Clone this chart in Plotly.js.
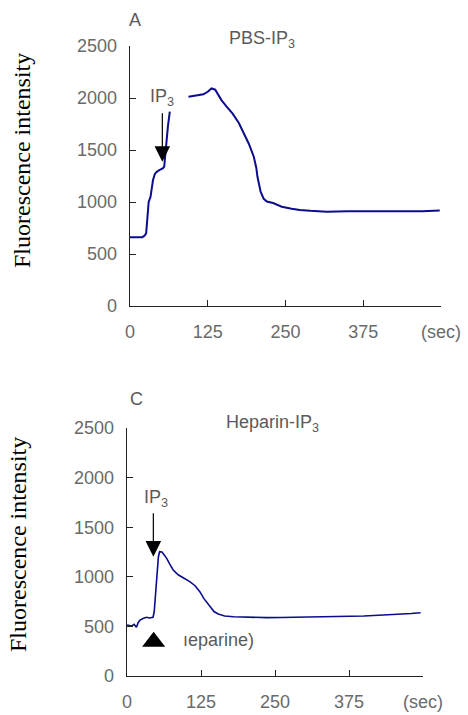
<!DOCTYPE html>
<html>
<head>
<meta charset="utf-8">
<script src="https://cdn.plot.ly/plotly-3.0.1.min.js"></script>
<style>html,body{margin:0;padding:0;background:#fff;}#chart{width:468px;height:715px;}</style>
</head>
<body>
<div id="chart"></div>
<script>
// Panel A: PBS-IP3
const pbsTime = [0, 10, 20, 24, 26, 28, 30, 33, 35, 37, 40, 43, 48, 53, 55, 57, 59, 61, 64, 80, 94, 105, 118, 125, 131, 137, 147, 155, 165, 175, 183, 191, 199, 203, 205, 210, 215, 220, 230, 244, 260, 273, 290, 316, 350, 380, 410, 440, 470, 482, 490, 498];
const pbsIntensity = [660, 660, 662, 680, 700, 850, 1000, 1050, 1150, 1211, 1270, 1290, 1310, 1325, 1340, 1480, 1620, 1730, 1870, null, 2013, 2020, 2035, 2060, 2092, 2080, 1980, 1920, 1850, 1760, 1660, 1560, 1435, 1330, 1240, 1100, 1030, 1005, 990, 955, 935, 923, 915, 907, 910, 908, 912, 910, 912, 916, 920, 918];

// Panel C: Heparin-IP3
const hepTime = [0, 4, 8, 12, 16, 19, 22, 27, 33, 38, 44, 46, 48, 50, 53, 55, 59, 63, 67, 72, 78, 83, 87, 95, 106, 115, 123, 130, 140, 147, 154, 165, 180, 200, 236, 260, 292, 330, 371, 400, 433, 450, 467, 480, 490, 496];
const hepIntensity = [514, 510, 504, 520, 491, 540, 564, 580, 592, 585, 592, 650, 800, 1035, 1200, 1253, 1250, 1220, 1186, 1130, 1069, 1040, 1018, 990, 951, 910, 850, 780, 699, 650, 625, 605, 598, 592, 588, 590, 592, 594, 598, 605, 615, 618, 625, 630, 635, 638];

// heparin addition marker
const heparinTime = [45];
const heparinLevel = [345];

// axis ticks
const xTickVals = [0, 125, 250, 375, 500];
const xTickText = ['0', '125', '250', '375', '(sec)'];
const yTickVals = [0, 500, 1000, 1500, 2000, 2500];

// IP3 arrows [x, tip y, tail y]
const ip3ArrowA = [52, 1387, 1868];
const ip3ArrowC = [44.5, 1203, 1656];

const lineColor = '#0c0c8c';
const grayText = '#5a5a5a';
const tickFont = {family: 'Liberation Sans, Arial, sans-serif', size: 18, color: '#6a6a6a'};
const W = 468, H = 715;

function xAx(l, r) {
  return {
    domain: [l / W, r / W], range: [0, 500], tickvals: xTickVals, ticktext: xTickText,
    ticks: 'inside', ticklen: 6, tickcolor: '#222', showline: true, linecolor: '#222', linewidth: 1.3,
    showgrid: false, zeroline: false, tickfont: tickFont, ticklabelstandoff: 9, fixedrange: true
  };
}
function yAx(bottom, top, anchor) {
  return {
    domain: [1 - bottom / H, 1 - top / H], range: [0, 2500], tickvals: yTickVals,
    ticks: 'inside', ticklen: 6, tickcolor: '#222', showline: true, linecolor: '#222', linewidth: 1.3,
    showgrid: false, zeroline: false, tickfont: tickFont, ticklabelstandoff: 8, anchor: anchor, fixedrange: true
  };
}

const traces = [
  {x: pbsTime, y: pbsIntensity, xaxis: 'x', yaxis: 'y', mode: 'lines', connectgaps: false,
   line: {color: lineColor, width: 2}, hoverinfo: 'skip'},
  {x: hepTime, y: hepIntensity, xaxis: 'x2', yaxis: 'y2', mode: 'lines',
   line: {color: lineColor, width: 1.6}, hoverinfo: 'skip'},
  {x: heparinTime, y: heparinLevel, xaxis: 'x2', yaxis: 'y2', mode: 'markers',
   marker: {symbol: 'triangle-up', size: 20, color: '#000'}, hoverinfo: 'skip'}
];

const yTitleFont = {family: 'Liberation Serif, Times New Roman, serif', size: 24, color: '#000'};
const labelFont = {family: 'Liberation Sans, Arial, sans-serif', size: 18, color: grayText};

function note(o) {
  return Object.assign({showarrow: false, xanchor: 'center', yanchor: 'middle', font: labelFont}, o);
}

const annotations = [
  note({text: 'A', xref: 'paper', yref: 'paper', x: 135 / W, y: 1 - 20 / H}),
  note({text: 'PBS-IP<sub>3</sub>', xref: 'paper', yref: 'paper', x: 262 / W, y: 1 - 40 / H}),
  note({text: 'C', xref: 'paper', yref: 'paper', x: 136 / W, y: 1 - 399 / H}),
  note({text: 'Heparin-IP<sub>3</sub>', xref: 'paper', yref: 'paper', x: 272 / W, y: 1 - 423 / H}),
  note({text: 'Fluorescence intensity', xref: 'paper', yref: 'paper', x: 22 / W, y: 1 - 161 / H, textangle: -90, font: yTitleFont}),
  note({text: 'Fluorescence intensity', xref: 'paper', yref: 'paper', x: 18 / W, y: 1 - 545 / H, textangle: -90, font: yTitleFont}),
  note({text: 'IP<sub>3</sub>', xref: 'x', yref: 'y', x: 52, y: 2000}),
  {text: '', xref: 'x', yref: 'y', x: ip3ArrowA[0], y: ip3ArrowA[1], axref: 'x', ayref: 'y', ax: ip3ArrowA[0], ay: ip3ArrowA[2],
   showarrow: true, arrowhead: 2, arrowsize: 2.6, arrowwidth: 1.2, arrowcolor: '#000'},
  note({text: 'IP<sub>3</sub>', xref: 'x2', yref: 'y2', x: 49, y: 1794}),
  {text: '', xref: 'x2', yref: 'y2', x: ip3ArrowC[0], y: ip3ArrowC[1], axref: 'x2', ayref: 'y2', ax: ip3ArrowC[0], ay: ip3ArrowC[2],
   showarrow: true, arrowhead: 2, arrowsize: 2.6, arrowwidth: 1.2, arrowcolor: '#000'},
  note({text: 'ıeparine)', xref: 'x2', yref: 'y2', x: 154, y: 363})
];

const layout = {
  width: W, height: H, margin: {l: 0, r: 0, t: 0, b: 0},
  paper_bgcolor: '#fff', plot_bgcolor: 'rgba(0,0,0,0)', showlegend: false,
  xaxis: Object.assign(xAx(130, 441), {anchor: 'y'}),
  yaxis: yAx(306, 46, 'x'),
  xaxis2: Object.assign(xAx(127, 423), {anchor: 'y2'}),
  yaxis2: yAx(676, 428, 'x2'),
  annotations: annotations
};

Plotly.newPlot('chart', traces, layout, {staticPlot: true, displayModeBar: false});
</script>
</body>
</html>
